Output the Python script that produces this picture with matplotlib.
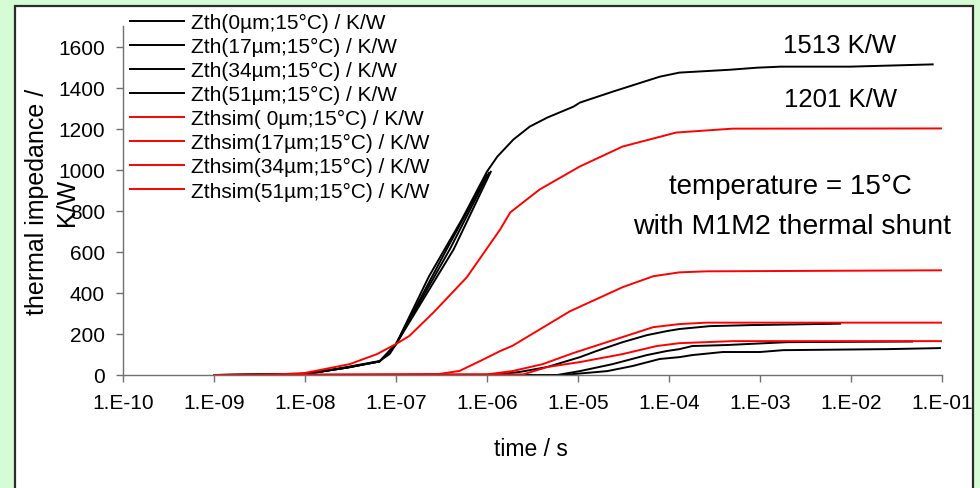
# ----------------------------------------------------------LIBRARIES----------------------------------------------------------#
import numpy
import matplotlib
matplotlib.use('Agg')
import matplotlib.pyplot as pyplot
from matplotlib.patches import Rectangle
from matplotlib.ticker import FixedLocator, NullLocator

# ----------------------------------------------------------VARIABLES----------------------------------------------------------#
nan = numpy.nan
# measured Zth curves (black); NaN splits the early fast part from the late part
t_zth0 = [1e-9, 5e-9, 1e-8, 1.45e-8, 2.9e-8, 6.6e-8, 8.5e-8, 1e-7, 2.3e-7, 5.3e-7, 1e-6, 1.3e-6, 1.95e-6,
          2.95e-6, 4.6e-6, 8.9e-6, 1.05e-5, 2.4e-5, 7.9e-5, 1.3e-4, 4.7e-4, 9.3e-4, 1.7e-3, 9.8e-3, 7.9e-2]
z_zth0 = [0, 1, 5, 15, 39, 68, 102, 150, 480, 758, 991, 1064, 1147,
          1210, 1254, 1307, 1327, 1380, 1453, 1473, 1487, 1497, 1502, 1502, 1513]
t_zth17 = [1e-9, 1e-8, 2.9e-8, 6.6e-8, 1e-7, 3.6e-7, 1.0e-6, 1.1e-6, 1.2e-6, 2.3e-6, 4.6e-6, 1.05e-5, 1.6e-5,
           3.1e-5, 5.7e-5, 9.5e-5, 1.3e-4, 2.8e-4, 7.8e-4, 7.6e-3]
z_zth17 = [0, 5, 36, 66, 150, 612, 975, nan, 0, 15, 39, 87, 117,
           160, 194, 214, 224, 238, 243, 250]
t_zth34 = [1e-9, 1e-8, 2.9e-8, 6.6e-8, 1e-7, 3.9e-7, 1.05e-6, 1.1e-6, 1.2e-6, 5.9e-6, 1.05e-5, 2.4e-5, 5.7e-5,
           9.5e-5, 1.3e-4, 1.8e-4, 4.3e-4, 2.0e-3, 4.7e-2]
z_zth34 = [0, 5, 36, 66, 150, 612, 985, nan, 0, 0, 19, 53, 97,
           117, 126, 141, 146, 160, 163]
t_zth51 = [1e-9, 1e-8, 2.9e-8, 6.6e-8, 1e-7, 4.3e-7, 1.1e-6, 1.15e-6, 1.2e-6, 6.8e-6, 2.1e-5, 4.0e-5, 7.9e-5,
           1.3e-4, 1.8e-4, 3.9e-4, 1.0e-3, 1.8e-3, 2.5e-2, 9.5e-2]
z_zth51 = [0, 5, 36, 66, 150, 612, 990, nan, 0, 0, 19, 44, 78,
           87, 97, 112, 112, 121, 126, 131]

# simulated Zth curves (red)
t_sim0 = [1e-9, 3e-9, 5.5e-9, 1e-8, 1.45e-8, 3.1e-8, 6.2e-8, 1e-7, 1.4e-7, 2.6e-7, 6e-7, 1.4e-6, 1.8e-6,
          3.8e-6, 1.05e-5, 3.1e-5, 1.2e-4, 5e-4, 1e-1]
z_sim0 = [0, 1, 4, 10, 24, 53, 102, 151, 190, 306, 476, 710, 792,
          904, 1016, 1113, 1181, 1200, 1201]
t_sim17 = [1e-9, 1e-7, 3e-7, 5e-7, 8.4e-7, 1.4e-6, 1.9e-6, 8.2e-6, 3.1e-5, 6.7e-5, 1.3e-4, 2.6e-4, 1e-1]
z_sim17 = [0, 3, 5, 20, 68, 117, 142, 311, 428, 481, 500, 505, 510]
t_sim34 = [1e-9, 1e-6, 1.9e-6, 4.1e-6, 8.9e-6, 3.1e-5, 6.7e-5, 1.3e-4, 2.6e-4, 1e-1]
z_sim34 = [0, 3, 19, 53, 107, 185, 233, 248, 255, 255]
t_sim51 = [1e-9, 2.5e-6, 4.6e-6, 1.05e-5, 3.1e-5, 7.3e-5, 1.3e-4, 5e-4, 1e-1]
z_sim51 = [0, 3, 39, 63, 102, 141, 155, 165, 165]

zth_labels = ['Zth(0µm;15°C) / K/W', 'Zth(17µm;15°C) / K/W', 'Zth(34µm;15°C) / K/W', 'Zth(51µm;15°C) / K/W']
sim_labels = ['Zthsim( 0µm;15°C) / K/W', 'Zthsim(17µm;15°C) / K/W', 'Zthsim(34µm;15°C) / K/W',
              'Zthsim(51µm;15°C) / K/W']
xtick_values = [1e-10, 1e-9, 1e-8, 1e-7, 1e-6, 1e-5, 1e-4, 1e-3, 1e-2, 1e-1]
xtick_labels = ['1.E-10', '1.E-09', '1.E-08', '1.E-07', '1.E-06', '1.E-05', '1.E-04', '1.E-03', '1.E-02', '1.E-01']
ytick_values = [0, 200, 400, 600, 800, 1000, 1200, 1400, 1600]

# ----------------------------------------------------------MAINCODE----------------------------------------------------------#
pyplot.rcParams['font.family'] = ['Liberation Sans', 'DejaVu Sans']
fig = pyplot.figure(figsize=(9.8, 4.89), dpi=100, facecolor='#d6fcd6')
# white panel with dark frame behind the chart
fig.patches.append(Rectangle((15 / 980, -0.05), 958 / 980, 1 - 7 / 489 + 0.05, transform=fig.transFigure,
                             facecolor='white', edgecolor='#2b2b2b', linewidth=1.6, zorder=-10))

ax = fig.add_axes([123 / 980, 113 / 489, 819 / 980, 349 / 489])
ax.set_facecolor('none')
ax.set_zorder(1)

handles = []
for t, z, lab in zip([t_zth0, t_zth17, t_zth34, t_zth51], [z_zth0, z_zth17, z_zth34, z_zth51], zth_labels):
    line, = ax.plot(t, z, color='black', linewidth=1.4, label=lab)
    handles.append(line)
for t, z, lab in zip([t_sim0, t_sim17, t_sim34, t_sim51], [z_sim0, z_sim17, z_sim34, z_sim51], sim_labels):
    line, = ax.plot(t, z, color='#ff0000', linewidth=1.4, label=lab)
    handles.append(line)

ax.set_xscale('log')
ax.set_xlim(1e-10, 1e-1)
ax.set_ylim(0, 1700)
ax.xaxis.set_major_locator(FixedLocator(xtick_values))
ax.xaxis.set_minor_locator(NullLocator())
ax.set_xticklabels(xtick_labels)
ax.set_yticks(ytick_values)

for side in ['top', 'right']:
    ax.spines[side].set_visible(False)
for side in ['left', 'bottom']:
    ax.spines[side].set_color('#707070')
    ax.spines[side].set_linewidth(1.0)
ax.tick_params(axis='both', direction='out', length=5, width=1.0, color='#707070', labelsize=15, labelcolor='black')
ax.tick_params(axis='x', pad=8)
ax.tick_params(axis='y', pad=8)

# legend sits over the upper left of the plot, no frame
ax.legend(handles=handles, loc='upper left', bbox_to_anchor=(130 / 980, 1 - 14 / 489),
          bbox_transform=fig.transFigure, frameon=False, fontsize=15, handlelength=2.6, handletextpad=0.35,
          labelspacing=0.24, borderpad=0, borderaxespad=0)

# axis titles
fig.text(52 / 980, 1 - 202 / 489, 'thermal impedance /\nK/W', rotation=90, ha='center', va='center',
         multialignment='center', fontsize=18, linespacing=1.3)
fig.text(531 / 980, 1 - 450 / 489, 'time / s', ha='center', va='center', fontsize=16.5)

# annotations
fig.text(840 / 980, 1 - 46 / 489, '1513 K/W', ha='center', va='center', fontsize=18.5)
fig.text(840 / 980, 1 - 100 / 489, '1201 K/W', ha='center', va='center', fontsize=18.5)
fig.text(790 / 980, 1 - 187 / 489, 'temperature = 15°C', ha='center', va='center', fontsize=20)
fig.text(792 / 980, 1 - 227 / 489, 'with M1M2 thermal shunt', ha='center', va='center', fontsize=20.5)

pyplot.savefig('out.png', dpi=100, facecolor=fig.get_facecolor())
